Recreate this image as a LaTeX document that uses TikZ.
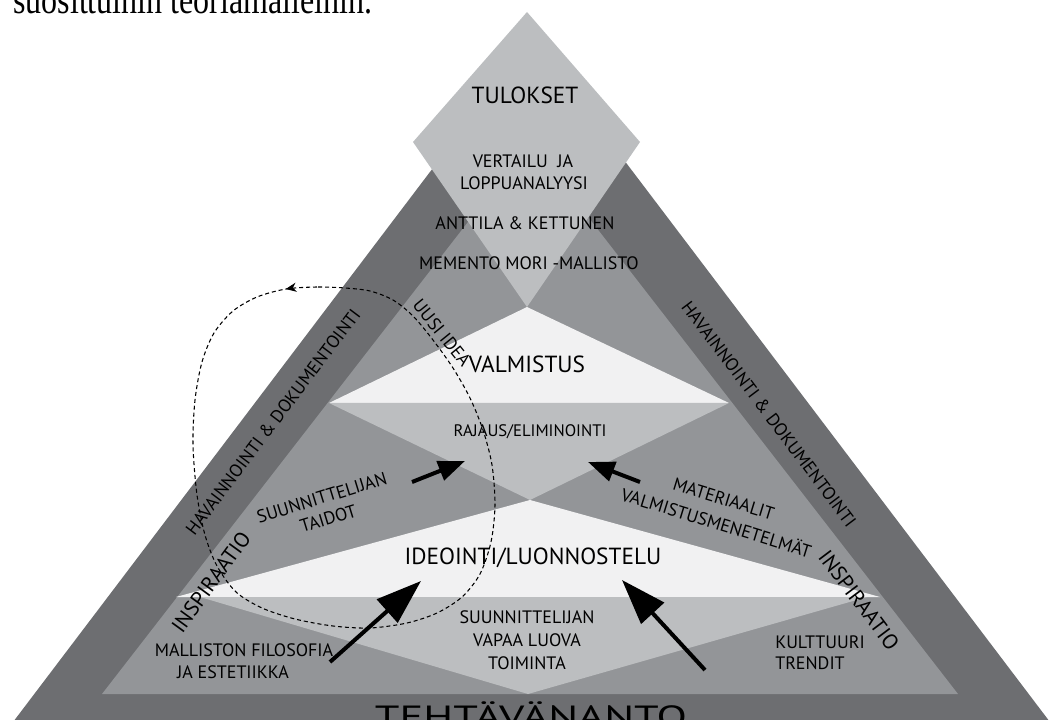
\documentclass[tikz,border=0pt]{standalone}
\usepackage{fontspec}
\setmainfont{PT Sans}
\newfontfamily\cutserif{Liberation Serif}
\usetikzlibrary{arrows.meta,decorations.markings}
\definecolor{gdark}{HTML}{6D6E71}
\definecolor{gmid}{HTML}{939598}
\definecolor{glight}{HTML}{BCBEC0}
\definecolor{gwhite}{HTML}{F1F1F2}
\tikzset{
  lbl/.style={inner sep=0pt, align=center, text=black, font=\fontsize{13.5}{17}\selectfont},
  lblbig/.style={lbl, font=\fontsize{17.5}{21}\selectfont},
  lblsmall/.style={lbl, font=\fontsize{12.5}{15}\selectfont},
  bigarrow/.style={line width=3pt, -{Triangle[length=34pt,width=23pt]}},
  smallarrow/.style={line width=3pt, -{Triangle[length=20pt,width=15pt]}},
  loopline/.style={line width=0.8pt, dash pattern=on 3pt off 2.2pt,
    postaction={decorate},
    decoration={markings, mark=at position 0.03 with {\arrow{Stealth[length=8pt,width=7pt]}}}}
}
\begin{document}
\begin{tikzpicture}[x=0.75pt,y=-0.75pt]
\useasboundingbox (0,0) rectangle (1054,720);
\clip (0,0) rectangle (1054,720);
% cut text line at the top
\node[anchor=base west, inner sep=0pt, font=\cutserif\fontsize{30}{34}\selectfont] (cut) at (13,13.5) {\scalebox{0.8}[1]{suosittuihin teoriamalleihin.}};
% outer triangle
\fill[gdark] (7,730) -- (531.5,38) -- (1056,730) -- cycle;
% inner triangle
\fill[gmid] (102,694) -- (530,142) -- (958,694) -- cycle;
% bands
\fill[gwhite] (527,307) -- (329,403) -- (729,403) -- cycle;
\fill[glight] (329,403) -- (729,403) -- (530,500) -- cycle;
\fill[gwhite] (530,500) -- (176,597) -- (880,597) -- cycle;
\fill[glight] (200,597) -- (867,597) -- (528,694) -- cycle;
% diamond
\fill[glight] (527,12) -- (640,142) -- (527,307) -- (413,142) -- cycle;
% texts
\node[lblbig] (tulokset) at (525,95) {TULOKSET};
\node[lbl] (vertailu) at (523,161) {VERTAILU\ \ JA};
\node[lbl] (loppu) at (524,183) {LOPPUANALYYSI};
\node[lbl] (anttila) at (525,223) {ANTTILA \& KETTUNEN};
\node[lbl] (memento) at (529,263) {MEMENTO MORI -MALLISTO};
\node[lblbig] (valm) at (527,364) {VALMISTUS};
\node[lbl, rotate=-51] (uusi) at (442,333) {UUSI IDEA};
\node[lblsmall] (rajaus) at (530,432) {RAJAUS/ELIMINOINTI};
\node[lblbig] (ideo) at (533,558) {IDEOINTI/LUONNOSTELU};
\node[lbl, font=\fontsize{13.5}{17.25}\selectfont] (vapaa) at (527,640) {SUUNNITTELIJAN\\VAPAA LUOVA\\TOIMINTA};
\node[lbl] (mall1) at (244,650) {MALLISTON FILOSOFIA};
\node[lbl] (mall2) at (233,672) {JA ESTETIIKKA};
\node[lbl, anchor=west] (kult) at (775,642) {KULTTUURI};
\node[lbl, anchor=west] (trend) at (775,663) {TRENDIT};
\node[lbl, rotate=53] (havL) at (273,422) {HAVAINNOINTI \& DOKUMENTOINTI};
\node[lbl, rotate=-53] (havR) at (769,414) {HAVAINNOINTI \& DOKUMENTOINTI};
\node[lbl, font=\fontsize{16}{19}\selectfont, rotate=54] (inspL) at (211,582) {INSPIRAATIO};
\node[lbl, font=\fontsize{16}{19}\selectfont, rotate=-53] (inspR) at (859,600) {INSPIRAATIO};
\node[lbl, font=\fontsize{13.5}{16.5}\selectfont, rotate=17] (taidot) at (325,508) {SUUNNITTELIJAN\\TAIDOT};
\node[lbl, font=\fontsize{13.5}{19}\selectfont, rotate=-17] (mater) at (720,511) {MATERIAALIT\\VALMISTUSMENETELMÄT};
\node[inner sep=0pt, anchor=base, font=\fontsize{23}{25}\selectfont] (teht) at (531,727) {\scalebox{1.45}[1]{TEHTÄVÄNANTO}};
% arrows
\coordinate (a1s) at (412,482); \coordinate (a1e) at (465,461);
\coordinate (a2s) at (640,482); \coordinate (a2e) at (588,462);
\coordinate (a3s) at (330,662); \coordinate (a3e) at (421,581);
\coordinate (a4s) at (705,670); \coordinate (a4e) at (622,580);
\draw[smallarrow] (a1s) -- (a1e);
\draw[smallarrow] (a2s) -- (a2e);
\draw[bigarrow] (a3s) -- (a3e);
\draw[bigarrow] (a4s) -- (a4e);
% dashed loop
\draw[loopline] plot[smooth cycle] coordinates {
 (345,288) (317,287) (286,289) (257,297) (233,311) (214,333) (202,362)
 (195,400) (193,445) (197,495) (205,535) (217,566) (236,592) (262,608)
 (295,619) (333,626) (370,628) (407,623) (437,613) (462,597) (480,574)
 (491,542) (495,505) (492,465) (483,430) (470,398) (453,368) (433,340)
 (413,316) (393,300) (370,291)};
\end{tikzpicture}
\end{document}
